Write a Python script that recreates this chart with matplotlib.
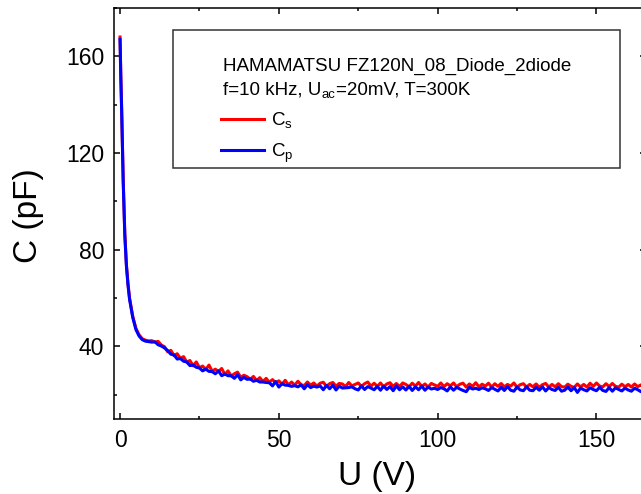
import numpy as np
import matplotlib
matplotlib.use("Agg")
import matplotlib.pyplot as plt
from matplotlib.patches import Rectangle
from matplotlib.ticker import MultipleLocator

plt.rcParams['font.family'] = ['Liberation Sans', 'DejaVu Sans']
plt.rcParams['mathtext.fontset'] = 'custom'
plt.rcParams['mathtext.rm'] = 'Liberation Sans'

# --- data ---
u_head = [0, 0.25, 0.5, 0.75, 1, 1.5, 2, 2.5, 3, 4, 5, 6, 7, 8, 9]
cs_head = [168, 152, 139, 124, 109, 87, 74, 66, 60, 52.5, 47.5, 44.8, 43.2, 42.6, 42.3]
cp_head = [167, 151, 138, 123, 108, 86, 73.5, 65.5, 59.5, 52, 47, 44.3, 42.8, 42.2, 42.0]

u_tail = list(range(10, 166))
cs_tail = [
    42.4, 41.8, 42.1, 40.6, 39.9, 37.8, 38.4, 36.2, 37.0, 35.1,
    35.8, 33.5, 34.2, 32.0, 33.6, 31.2, 31.9, 30.5, 32.3, 29.8,
    30.6, 29.6, 30.9, 28.4, 29.9, 27.8, 28.7, 29.4, 27.2, 28.1,
    27.5, 26.4, 27.6, 25.9, 27.1, 25.5, 26.8, 25.2, 26.3, 25.0,
    25.8, 24.4, 26.0, 24.1, 25.3, 24.0, 25.6, 24.2, 23.8, 25.3,
    24.0, 24.9, 23.6, 24.8, 25.2, 23.5, 24.6, 25.1, 23.6, 24.7,
    24.5, 23.4, 25.1, 23.7, 24.3, 24.9, 23.5, 24.6, 25.3, 23.6,
    24.8, 23.5, 24.9, 23.3, 24.5, 25.0, 23.5, 24.7, 23.4, 24.9,
    24.3, 23.3, 24.8, 23.6, 25.1, 23.4, 24.5, 23.2, 24.7, 24.1,
    23.5, 24.9, 23.4, 24.6, 23.7, 24.9, 23.3, 24.4, 24.8, 23.2,
    24.5, 23.5, 25.0, 23.3, 24.4, 23.6, 24.8, 23.2, 24.6, 23.5,
    24.7, 23.3, 24.3, 23.6, 24.9, 23.1, 24.2, 24.6, 23.2, 24.3,
    23.3, 24.5, 23.1, 24.2, 24.7, 23.2, 24.3, 23.3, 24.6, 23.4,
    23.2, 24.4, 23.5, 23.1, 24.5, 23.3, 24.3, 23.2, 24.8, 23.5,
    24.9, 23.6, 23.3, 24.6, 23.4, 24.7, 23.5, 23.2, 24.4, 23.3,
    24.3, 23.2, 24.5, 23.4, 24.1, 23.3,
]
cp_tail = [
    41.8, 41.9, 40.7, 40.2, 39.4, 38.3, 36.8, 36.5, 34.8, 35.0,
    33.9, 33.6, 32.1, 32.3, 31.4, 31.1, 29.9, 30.6, 29.7, 29.6,
    28.7, 29.9, 27.9, 28.6, 27.9, 27.9, 26.8, 28.3, 26.2, 27.2,
    26.4, 26.6, 25.6, 26.0, 25.3, 25.3, 25.1, 25.0, 23.7, 25.5,
    23.2, 24.6, 24.0, 23.9, 23.5, 23.8, 23.3, 24.1, 22.5, 24.2,
    23.0, 23.6, 23.2, 23.7, 22.1, 23.9, 22.5, 24.0, 22.0, 23.6,
    22.8, 22.9, 23.0, 23.3, 22.5, 22.0, 23.7, 22.2, 23.4, 22.8,
    22.1, 23.5, 21.9, 23.6, 22.2, 23.4, 21.7, 23.7, 22.1, 23.3,
    22.0, 23.5, 21.8, 23.3, 22.1, 23.6, 21.9, 23.2, 22.4, 22.7,
    22.2, 23.0, 22.5, 21.6, 23.3, 21.9, 23.1, 22.4, 21.8, 21.3,
    23.1, 22.4, 22.7, 22.2, 22.9, 22.5, 21.8, 23.0, 22.3, 21.6,
    23.1, 21.8, 23.4, 21.9, 21.5, 23.2, 22.0, 21.7, 23.3, 21.9,
    21.7, 23.1, 21.9, 23.3, 21.6, 23.0, 22.2, 21.8, 23.1, 21.5,
    21.9, 23.2, 21.7, 23.0, 21.0, 22.8, 22.1, 21.6, 22.9, 22.2,
    21.7, 23.1, 21.8, 21.4, 23.0, 21.5, 22.9, 22.2, 21.6, 22.8,
    22.0, 21.5, 22.7, 22.1, 21.3, 22.6,
]

u = np.array(u_head + u_tail)
cs = np.array(cs_head + cs_tail)
cp = np.array(cp_head + cp_tail)

W, H = 641, 494
fig = plt.figure(figsize=(W / 100, H / 100), dpi=100)
left, right, top, bottom = 114, 646, 8, 419
ax = fig.add_axes([left / W, 1 - bottom / H, (right - left) / W, (bottom - top) / H])

ax.plot(u, cs, color='#ff0000', lw=2.2, label=r'C$_\mathregular{s}$')
ax.plot(u, cp, color='#0000ff', lw=2.2, label=r'C$_\mathregular{p}$')

ax.set_xlim(-1.9, 165.6)
ax.set_ylim(10, 180)
ax.xaxis.set_major_locator(MultipleLocator(50))
ax.xaxis.set_minor_locator(MultipleLocator(25))
ax.yaxis.set_major_locator(MultipleLocator(40))
ax.yaxis.set_minor_locator(MultipleLocator(20))
ax.set_yticks([40, 80, 120, 160])
ax.tick_params(which='both', direction='in', top=True, right=True, width=1.1)
ax.tick_params(which='major', length=4.5, labelsize=16.5, pad=7)
ax.tick_params(which='minor', length=2.3)
for s in ax.spines.values():
    s.set_linewidth(1.1)

ax_h = bottom - top
ax_w = right - left
def ax_xy(px, py):
    return (px - left) / ax_w, (bottom - py) / ax_h

ax.set_xlabel('U (V)', fontsize=24)
ax.xaxis.set_label_coords(*ax_xy(377, 492))
ax.xaxis.label.set_va('bottom')
ax.set_ylabel('C (pF)', fontsize=24)
ax.yaxis.set_label_coords(*ax_xy(13, 216))
ax.yaxis.label.set_va('top')

# legend box
x0, y0 = ax_xy(173, 168)
x1, y1 = ax_xy(620, 30)
ax.add_patch(Rectangle((x0, y0), x1 - x0, y1 - y0, transform=ax.transAxes,
                       fill=False, edgecolor='#333333', lw=1.1, zorder=5))
tx, ty = ax_xy(223, 70.5)
ax.text(tx, ty, "HAMAMATSU FZ120N_08_Diode_2diode", transform=ax.transAxes,
        fontsize=13.5, va='baseline')
tx, ty = ax_xy(223, 95)
t1 = ax.text(tx, ty, "f=10 kHz, U", transform=ax.transAxes, fontsize=13.5, va='baseline')
t2 = ax.annotate("ac", xy=(1, 0), xycoords=t1, xytext=(0.3, -1.5),
                 textcoords='offset points', fontsize=9.5, va='bottom')
ax.annotate("=20mV, T=300K", xy=(1, 0), xycoords=t2, xytext=(0.3, 1.5),
            textcoords='offset points', fontsize=13.5, va='bottom')

lx, ly = ax_xy(221, 111)
ax.legend(loc='upper left', bbox_to_anchor=(lx, ly), frameon=False, fontsize=13.5,
          handlelength=2.3, handletextpad=0.35, borderpad=0, borderaxespad=0,
          labelspacing=0.55)

fig.savefig('out.png', dpi=100)
